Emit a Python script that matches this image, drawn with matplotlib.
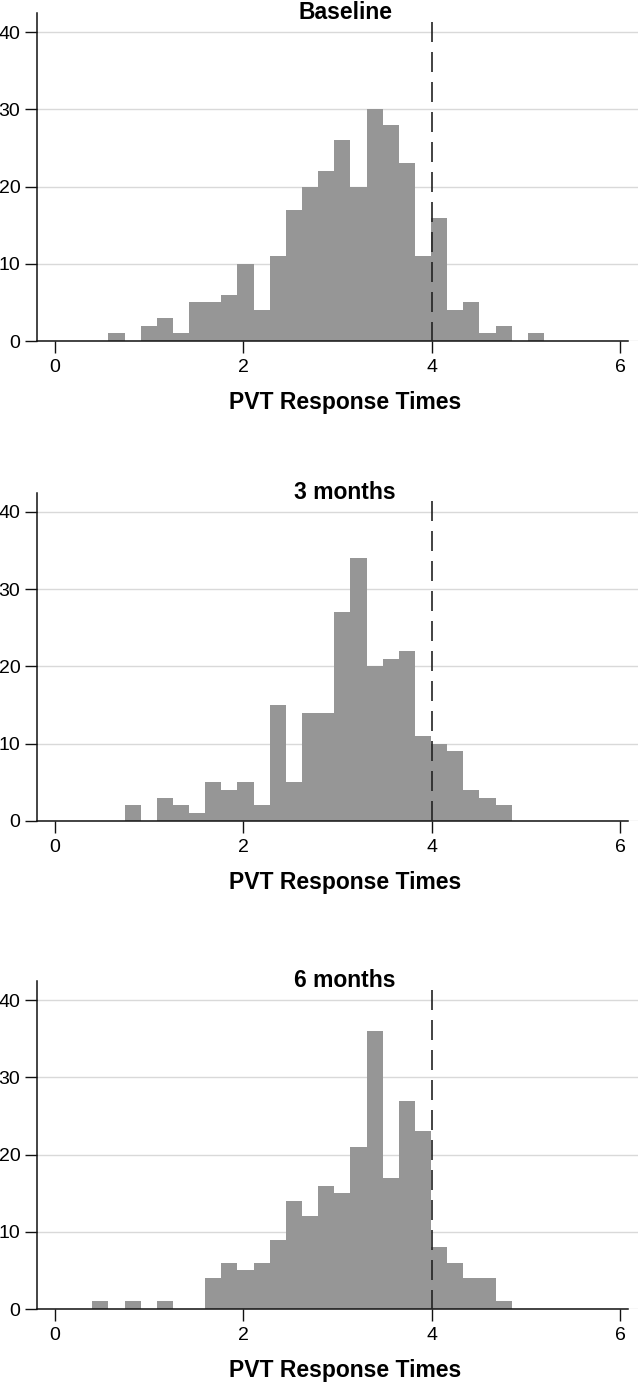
import numpy as np
import matplotlib
matplotlib.use('Agg')
import matplotlib.pyplot as plt

plt.rcParams['font.family'] = ['Liberation Sans', 'DejaVu Sans']

# histogram bins (common grid for all three panels)
bin_start = 0.395
bin_width = 0.1713

# counts per bin
baseline_counts = [0, 1, 0, 2, 3, 1, 5, 5, 6, 10, 4, 11, 17, 20, 22, 26, 20, 30, 28, 23,
                   11, 16, 4, 5, 1, 2, 0, 1]
months3_counts = [0, 0, 2, 0, 3, 2, 1, 5, 4, 5, 2, 15, 5, 14, 14, 27, 34, 20, 21, 22,
                  11, 10, 9, 4, 3, 2]
months6_counts = [1, 0, 1, 0, 1, 0, 0, 4, 6, 5, 6, 9, 14, 12, 16, 15, 21, 36, 17, 27,
                  23, 8, 6, 4, 4, 1]

panel_titles = ["Baseline", "3 months", "6 months"]
x_ticks = [0, 2, 4, 6]
y_ticks = [0, 10, 20, 30, 40]
cutoff = 4

W, H = 638, 1388
fig = plt.figure(figsize=(W / 100, H / 100), dpi=100)

# pixel layout of the panels: (top, bottom)
panel_px = [(13, 341), (492.7, 820.7), (981, 1309)]
left_px, right_px = 36.7, 638

all_counts = [baseline_counts, months3_counts, months6_counts]
for (top, bottom), counts, title in zip(panel_px, all_counts, panel_titles):
    ax = fig.add_axes([left_px / W, 1 - bottom / H, (right_px - left_px) / W, (bottom - top) / H])
    edges = bin_start + bin_width * np.arange(len(counts))
    ax.bar(edges, counts, width=bin_width, align='edge', color='#969696', linewidth=0, zorder=2)

    ax.set_xlim(-0.195, 6.19)
    ax.set_ylim(0, 42.5)
    ax.set_xticks(x_ticks)
    ax.set_yticks(y_ticks)
    ax.yaxis.grid(True, color='#d9d9d9', linewidth=1.0, zorder=0)
    ax.set_axisbelow(True)

    for side in ['top', 'right']:
        ax.spines[side].set_visible(False)
    ax.spines['left'].set_linewidth(1.1)
    ax.spines['bottom'].set_linewidth(1.1)
    ax.spines['left'].set_color('#111111')
    ax.spines['bottom'].set_color('#111111')
    ax.spines['bottom'].set_bounds(-0.195, 6.085)

    ax.tick_params(axis='y', direction='out', length=8.4, width=1.0, pad=3.4, labelsize=14,
                   color='#111111')
    ax.tick_params(axis='x', direction='out', length=8.4, width=1.0, pad=4.6, labelsize=14,
                   color='#111111')

    # reference line at 4
    ax.plot([cutoff, cutoff], [0.974, 0], transform=ax.get_xaxis_transform(),
            color='#222222', linewidth=1.2, dashes=(12, 6), zorder=3)

    h = bottom - top
    ax.text(0.513, 1 - 6 / h, title, transform=ax.transAxes, ha='center', va='baseline',
            fontsize=16.5, fontweight='bold')
    ax.text(0.513, -68 / h, "PVT Response Times", transform=ax.transAxes, ha='center',
            va='baseline', fontsize=16.5, fontweight='bold')

fig.savefig("out.png", dpi=100)
